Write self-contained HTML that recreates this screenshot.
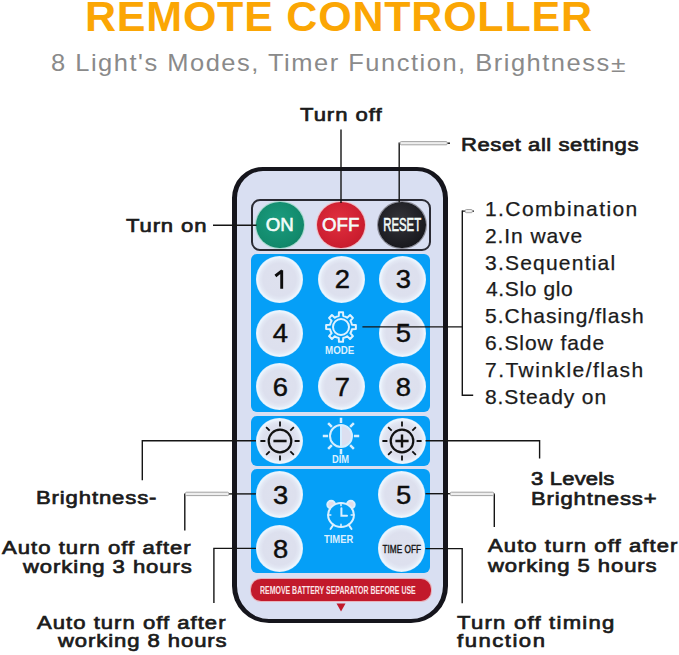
<!DOCTYPE html>
<html><head><meta charset="utf-8">
<style>
*{margin:0;padding:0;box-sizing:border-box}
html,body{width:679px;height:655px;overflow:hidden;background:#fff}
body{position:relative;font-family:"Liberation Sans",sans-serif}
.t{position:absolute;white-space:nowrap;line-height:1}
.ln{position:absolute;background:#121212}
.lg{position:absolute;height:3.5px;background:#ececec;border-top:1px solid #9d9d9d;border-bottom:1px solid #a5a5a5}
.remote{position:absolute;left:232px;top:166.5px;width:216px;height:456px;border:solid #15151c;border-width:4.3px 5px;border-radius:31px 31px 37px 37px;background:#d9dff2}
.box{position:absolute;left:251px;top:199px;width:180px;height:52px;border:2px solid #2a2a33;border-radius:9px}
.panel{position:absolute;left:251px;width:179px;background:#059ff7;border-radius:6px}
.btn{position:absolute;width:47px;height:46.5px;border-radius:50%;background:radial-gradient(closest-side,#dee1ee 0%,#dde0ee 70%,#e3e8f4 84%,#eef6fe 95%,#d2ebfc 100%)}
.num{position:absolute;left:0;top:0;width:100%;height:100%;display:flex;align-items:center;justify-content:center;font-size:25.8px;color:#0d0d0d;line-height:1;-webkit-text-stroke:0.45px #0d0d0d;padding-top:1px;padding-left:1.6px;transform:scaleX(1.06)}
.rb{position:absolute;width:47.5px;height:46.5px;border-radius:50%;display:flex;align-items:center;justify-content:center;color:#f4fcfa;font-size:18.7px;line-height:1;-webkit-text-stroke:0.6px currentColor}
.red{position:absolute;left:251px;top:579px;width:180px;height:22px;border-radius:10px;background:#c2192b;box-shadow:0 0 0 1px #e7b4bd}
.wtxt{position:absolute;color:#dcf0ff;font-weight:bold;white-space:nowrap;line-height:1}
svg{position:absolute;overflow:visible}
</style></head><body>

<div class="t" style="left:85.00px;top:-4.80px;font-size:43px;font-weight:bold;letter-spacing:0.78px;color:#fba604">REMOTE CONTROLLER</div>
<div class="t" style="left:51.30px;top:51.40px;font-size:24.5px;font-weight:normal;letter-spacing:1.45px;color:#8a8a8a;transform:scaleX(1.04);transform-origin:0 0">8 Light&#39;s Modes, Timer Function, Brightness</div>
<div class="t" style="left:611.40px;top:53.60px;font-size:22px;font-weight:normal;letter-spacing:0.50px;color:#8a8a8a;transform:scaleX(1.2);transform-origin:0 0">±</div>
<div class="t" style="left:299.80px;top:104.60px;font-size:19.2px;font-weight:normal;letter-spacing:0.84px;color:#1b1b1b;-webkit-text-stroke:0.7px #1b1b1b;transform:scaleX(1.15);transform-origin:0 0">Turn off</div>
<div class="t" style="left:461.10px;top:134.90px;font-size:19.2px;font-weight:normal;letter-spacing:0.48px;color:#1b1b1b;-webkit-text-stroke:0.7px #1b1b1b;transform:scaleX(1.15);transform-origin:0 0">Reset all settings</div>
<div class="t" style="left:126.00px;top:216.00px;font-size:19.2px;font-weight:normal;letter-spacing:0.75px;color:#1b1b1b;-webkit-text-stroke:0.7px #1b1b1b;transform:scaleX(1.15);transform-origin:0 0">Turn on</div>
<div class="t" style="left:36.30px;top:487.90px;font-size:19.2px;font-weight:normal;letter-spacing:0.77px;color:#1b1b1b;-webkit-text-stroke:0.7px #1b1b1b;transform:scaleX(1.15);transform-origin:0 0">Brightness-</div>
<div class="t" style="left:531.20px;top:469.00px;font-size:19.2px;font-weight:normal;letter-spacing:0.15px;color:#1b1b1b;-webkit-text-stroke:0.7px #1b1b1b;transform:scaleX(1.15);transform-origin:0 0">3 Levels</div>
<div class="t" style="left:531.20px;top:489.00px;font-size:19.2px;font-weight:normal;letter-spacing:0.73px;color:#1b1b1b;-webkit-text-stroke:0.7px #1b1b1b;transform:scaleX(1.15);transform-origin:0 0">Brightness+</div>
<div class="t" style="left:1.60px;top:537.60px;font-size:19.2px;font-weight:normal;letter-spacing:0.90px;color:#1b1b1b;-webkit-text-stroke:0.7px #1b1b1b;transform:scaleX(1.15);transform-origin:0 0">Auto turn off after</div>
<div class="t" style="left:22.90px;top:557.00px;font-size:19.2px;font-weight:normal;letter-spacing:0.81px;color:#1b1b1b;-webkit-text-stroke:0.7px #1b1b1b;transform:scaleX(1.15);transform-origin:0 0">working 3 hours</div>
<div class="t" style="left:487.50px;top:536.00px;font-size:19.2px;font-weight:normal;letter-spacing:0.93px;color:#1b1b1b;-webkit-text-stroke:0.7px #1b1b1b;transform:scaleX(1.15);transform-origin:0 0">Auto turn off after</div>
<div class="t" style="left:487.50px;top:555.50px;font-size:19.2px;font-weight:normal;letter-spacing:0.80px;color:#1b1b1b;-webkit-text-stroke:0.7px #1b1b1b;transform:scaleX(1.15);transform-origin:0 0">working 5 hours</div>
<div class="t" style="left:37.00px;top:612.60px;font-size:19.2px;font-weight:normal;letter-spacing:0.89px;color:#1b1b1b;-webkit-text-stroke:0.7px #1b1b1b;transform:scaleX(1.15);transform-origin:0 0">Auto turn off after</div>
<div class="t" style="left:58.30px;top:631.30px;font-size:19.2px;font-weight:normal;letter-spacing:0.80px;color:#1b1b1b;-webkit-text-stroke:0.7px #1b1b1b;transform:scaleX(1.15);transform-origin:0 0">working 8 hours</div>
<div class="t" style="left:457.00px;top:612.60px;font-size:19.2px;font-weight:normal;letter-spacing:1.08px;color:#1b1b1b;-webkit-text-stroke:0.7px #1b1b1b;transform:scaleX(1.15);transform-origin:0 0">Turn off timing</div>
<div class="t" style="left:457.00px;top:630.90px;font-size:19.2px;font-weight:normal;letter-spacing:1.32px;color:#1b1b1b;-webkit-text-stroke:0.7px #1b1b1b;transform:scaleX(1.15);transform-origin:0 0">function</div>
<div class="t" style="left:484.70px;top:199.20px;font-size:20.2px;font-weight:normal;letter-spacing:1.35px;color:#1b1b1b;-webkit-text-stroke:0.25px #1b1b1b;transform:scaleX(1.04);transform-origin:0 0">1.Combination</div>
<div class="t" style="left:485.00px;top:225.80px;font-size:20.2px;font-weight:normal;letter-spacing:0.87px;color:#1b1b1b;-webkit-text-stroke:0.25px #1b1b1b;transform:scaleX(1.04);transform-origin:0 0">2.In wave</div>
<div class="t" style="left:485.00px;top:252.50px;font-size:20.2px;font-weight:normal;letter-spacing:1.17px;color:#1b1b1b;-webkit-text-stroke:0.25px #1b1b1b;transform:scaleX(1.04);transform-origin:0 0">3.Sequential</div>
<div class="t" style="left:486.00px;top:279.30px;font-size:20.2px;font-weight:normal;letter-spacing:0.60px;color:#1b1b1b;-webkit-text-stroke:0.25px #1b1b1b;transform:scaleX(1.04);transform-origin:0 0">4.Slo glo</div>
<div class="t" style="left:485.00px;top:306.00px;font-size:20.2px;font-weight:normal;letter-spacing:0.95px;color:#1b1b1b;-webkit-text-stroke:0.25px #1b1b1b;transform:scaleX(1.04);transform-origin:0 0">5.Chasing/flash</div>
<div class="t" style="left:485.00px;top:333.00px;font-size:20.2px;font-weight:normal;letter-spacing:0.90px;color:#1b1b1b;-webkit-text-stroke:0.25px #1b1b1b;transform:scaleX(1.04);transform-origin:0 0">6.Slow fade</div>
<div class="t" style="left:485.00px;top:359.80px;font-size:20.2px;font-weight:normal;letter-spacing:1.41px;color:#1b1b1b;-webkit-text-stroke:0.25px #1b1b1b;transform:scaleX(1.04);transform-origin:0 0">7.Twinkle/flash</div>
<div class="t" style="left:485.00px;top:386.60px;font-size:20.2px;font-weight:normal;letter-spacing:0.87px;color:#1b1b1b;-webkit-text-stroke:0.25px #1b1b1b;transform:scaleX(1.04);transform-origin:0 0">8.Steady on</div>

<div class="remote"></div>
<div class="box"></div>
<div class="panel" style="top:253.5px;height:158px"></div>
<div class="panel" style="top:415.5px;height:50px"></div>
<div class="panel" style="top:469px;height:104px"></div>
<div class="red"></div>
<div class="wtxt" style="left:260px;top:584.5px;font-size:11.8px;color:#fbe5e8;transform:scaleX(.59);transform-origin:0 0">REMOVE BATTERY SEPARATOR BEFORE USE</div>
<svg style="left:336px;top:602.5px" width="10" height="9"><path d="M0.5,0.5 L9.5,0.5 L5,8.5Z" fill="#c2192b"/></svg>

<!-- ON OFF RESET -->
<div class="rb" style="left:256px;top:201.8px;background:radial-gradient(circle at 45% 40%,#1b9c7e,#128a6c 65%,#0d7559);box-shadow:0 0 0 1px #a8dccd">ON</div>
<div class="rb" style="left:317px;top:201.8px;background:radial-gradient(circle at 45% 40%,#e0303f,#cc1e2f 65%,#b2182a);box-shadow:0 0 0 1px #f2bcc2">OFF</div>
<div class="rb" style="left:378.3px;top:201.8px;background:radial-gradient(circle at 45% 40%,#34343b,#1c1c21 65%,#0f0f13);box-shadow:0 0 0 1px #8d8d98"><span style="display:inline-block;white-space:nowrap;transform:scaleX(.61)">RESET</span></div>

<!-- number buttons -->
<div class="btn" style="left:256px;top:256px"><svg style="left:0;top:0" width="47" height="47"><path d="M25.7,14.2V32.7M26.2,14.6L19.4,20" stroke="#0d0d0d" stroke-width="2.9" fill="none"/></svg></div>
<div class="btn" style="left:317.5px;top:256px"><div class="num">2</div></div>
<div class="btn" style="left:378.5px;top:256px"><div class="num">3</div></div>
<div class="btn" style="left:256px;top:310px"><div class="num">4</div></div>
<div class="btn" style="left:378.5px;top:310px"><div class="num">5</div></div>
<div class="btn" style="left:256px;top:363.3px"><div class="num" style="padding-top:3px">6</div></div>
<div class="btn" style="left:317.5px;top:363.3px"><div class="num" style="padding-top:3px">7</div></div>
<div class="btn" style="left:378.5px;top:363.3px"><div class="num" style="padding-top:3px">8</div></div>

<!-- gear -->
<svg style="left:340.5px;top:327.3px" width="1" height="1"><g fill="none" stroke="#e0f2ff" stroke-width="2"><circle r="8"/><path d="M-2.23,-10.98L-2.04,-14.86L2.04,-14.86L2.23,-10.98A11.2,11.2 0 0 1 6.18,-9.34L9.07,-11.95L11.95,-9.07L9.34,-6.18A11.2,11.2 0 0 1 10.98,-2.23L14.86,-2.04L14.86,2.04L10.98,2.23A11.2,11.2 0 0 1 9.34,6.18L11.95,9.07L9.07,11.95L6.18,9.34A11.2,11.2 0 0 1 2.23,10.98L2.04,14.86L-2.04,14.86L-2.23,10.98A11.2,11.2 0 0 1 -6.18,9.34L-9.07,11.95L-11.95,9.07L-9.34,6.18A11.2,11.2 0 0 1 -10.98,2.23L-14.86,2.04L-14.86,-2.04L-10.98,-2.23A11.2,11.2 0 0 1 -9.34,-6.18L-11.95,-9.07L-9.07,-11.95L-6.18,-9.34A11.2,11.2 0 0 1 -2.23,-10.98Z" stroke-linejoin="round"/></g></svg>
<div class="wtxt" style="left:325px;top:345px;font-size:10.5px;transform:scaleX(.93);transform-origin:0 0">MODE</div>

<!-- dim row -->
<div class="btn" style="left:256px;top:417.5px"></div>
<svg style="left:280px;top:441px" width="1" height="1"><g fill="none" stroke="#121212"><circle r="11.3" stroke-width="2.2"/><path d="M-6.6,0H6.6" stroke-width="2.5"/><path d="M14.60,0.00L19.60,0.00M10.32,10.32L13.86,13.86M0.00,14.60L0.00,19.60M-10.32,10.32L-13.86,13.86M-14.60,0.00L-19.60,0.00M-10.32,-10.32L-13.86,-13.86M-0.00,-14.60L-0.00,-19.60M10.32,-10.32L13.86,-13.86" stroke-width="1.8"/></g></svg>
<div class="btn" style="left:378.5px;top:417.5px"></div>
<svg style="left:402px;top:440.5px" width="1" height="1"><g fill="none" stroke="#121212"><circle r="11.3" stroke-width="2.2"/><path d="M-6.6,0H6.6M0,-6.6V6.6" stroke-width="2.4"/><path d="M14.60,0.00L19.60,0.00M10.32,10.32L13.86,13.86M0.00,14.60L0.00,19.60M-10.32,10.32L-13.86,13.86M-14.60,0.00L-19.60,0.00M-10.32,-10.32L-13.86,-13.86M-0.00,-14.60L-0.00,-19.60M10.32,-10.32L13.86,-13.86" stroke-width="1.8"/></g></svg>
<svg style="left:341px;top:436px" width="1" height="1"><path d="M0,-11 A11,11 0 0 1 0,11Z" fill="#dcdff0"/><g fill="none" stroke="#d6eeff" stroke-width="2"><circle r="11"/><path d="M0,-11V11"/><path d="M12.90,0.00L18.20,0.00M9.12,9.12L12.87,12.87M0.00,12.90L0.00,18.20M-9.12,9.12L-12.87,12.87M-12.90,0.00L-18.20,0.00M-9.12,-9.12L-12.87,-12.87M-0.00,-12.90L-0.00,-18.20M9.12,-9.12L12.87,-12.87" stroke-width="2.5"/></g></svg>
<div class="wtxt" style="left:331.8px;top:454.5px;font-size:10.4px;transform:scaleX(.9);transform-origin:0 0">DIM</div>

<!-- timer row -->
<div class="btn" style="left:256px;top:471px"><div class="num" style="padding-top:3px;padding-left:2px">3</div></div>
<div class="btn" style="left:377.8px;top:471px"><div class="num" style="padding-top:2.5px;padding-left:4px">5</div></div>
<div class="btn" style="left:256px;top:525px"><div class="num" style="padding-top:3.5px;padding-left:2px">8</div></div>
<div class="btn" style="left:378px;top:525px"><div class="num" style="font-size:10.6px;font-weight:normal;-webkit-text-stroke:0.35px #111;transform:none;padding:2px 0 0 1px"><span style="display:inline-block;white-space:nowrap;transform:scaleX(.78)">TIME OFF</span></div></div>
<svg style="left:340.8px;top:514.6px" width="1" height="1"><g fill="none" stroke="#dcf0ff" stroke-width="2" stroke-linecap="round">
<circle cx="-9.8" cy="-10.4" r="3.9" fill="#e4dde8"/><circle cx="9.8" cy="-10.4" r="3.9" fill="#e4dde8"/>
<ellipse rx="12.9" ry="12.1" fill="#059ff7"/>
<path d="M0.4,-6.8V0.8H6"/>
<path d="M0,-12.1V-9.4M0,12.1V9.4M-12.9,0H-10.2M12.9,0H10.2" stroke-width="1.6"/>
<path d="M-7.5,9.5L-10.5,14M7.5,9.5L10.5,14"/>
</g></svg>
<div class="wtxt" style="left:324.3px;top:534px;font-size:10.8px;transform:scaleX(.87);transform-origin:0 0">TIMER</div>

<!-- callout lines -->
<svg style="left:0;top:0;overflow:visible" width="679" height="655">
<g stroke="#151515" stroke-width="1.4" fill="none" stroke-linecap="butt">
<path d="M341,129.4V203"/>
<path d="M399.2,142.4V202.5"/>
<path d="M447,143.2H450"/>
<path d="M213,225.3H256.5"/>
<path d="M462.3,210.5V395.3H473.2"/>
<path d="M462.3,211.1H465.5M472,211.1H474"/>
<path d="M362.4,326.9H462.3"/>
<path d="M142.3,480.2V440.8H256"/>
<path d="M425.5,440.8H539.6V458.4"/>
<path d="M228.5,493.9H256"/>
<path d="M184.8,493.4V530.6"/>
<path d="M425.5,493.7H450.3"/>
<path d="M494.3,493.4V527"/>
<path d="M256,548.4H213.9V603"/>
<path d="M425.5,548.6H462.2V603.2"/>
</g>
<g fill="#eeeeee" stroke="#a3a3a3" stroke-width="1">
<rect x="400.2" y="141.6" width="47" height="3.2" rx="1"/>
<rect x="465.3" y="209.5" width="7" height="3.2" rx="1"/>
<rect x="185.5" y="492.2" width="43.2" height="3.4" rx="1"/>
<rect x="450.3" y="492.2" width="43.4" height="3.4" rx="1"/>
</g>
</svg>

</body></html>
